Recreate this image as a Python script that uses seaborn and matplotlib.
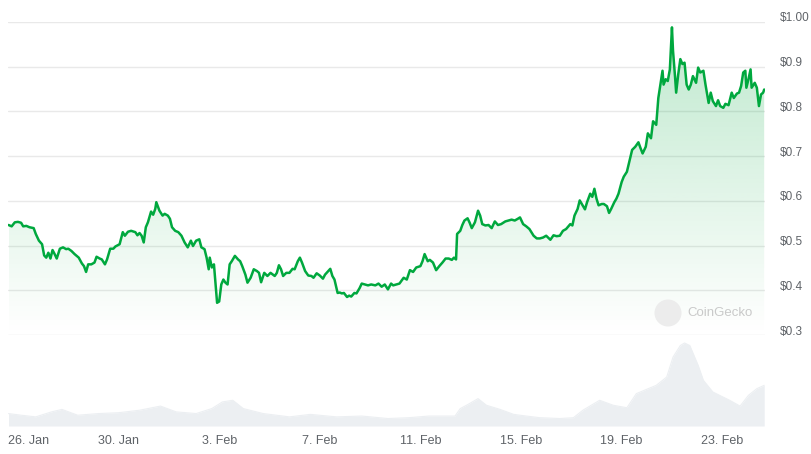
import numpy as np
import pandas as pd
import matplotlib
matplotlib.use("Agg")
import matplotlib.pyplot as plt
import matplotlib.dates as mdates
import matplotlib.transforms as mtransforms
from matplotlib.patches import Polygon, Ellipse
from matplotlib.colors import to_rgb
import seaborn as sns

sns.set_theme(style="white")
plt.rcParams['font.family'] = ['Liberation Sans', 'DejaVu Sans']

# ---------------- data ----------------
price_hours = [-9, -6, -3, 0, 3, 5, 8, 11, 15, 17, 20, 23, 25, 27, 29, 31, 33, 35, 37, 40,
               43, 46, 48, 51, 54, 58, 61, 63, 65, 67, 70, 73, 75, 78, 80, 83, 85, 88, 91, 93,
               97, 100, 102, 105, 108, 112, 114, 116, 118, 120, 122, 124, 127, 129, 131, 132, 135,
               138, 140, 143, 145, 147, 150, 153, 156, 159, 162, 165, 167, 170, 173, 175, 178, 180, 182, 183, 185,
               187, 189, 190, 192, 194, 196, 198, 200, 202, 204, 207, 210, 212, 214, 217, 219, 222, 225, 228, 230,
               232, 235, 238, 241, 245, 247, 249, 251, 253, 256, 259, 262, 264, 267, 269, 271, 274, 277,
               280, 282, 285, 288, 291, 293, 296, 298, 300, 302, 305, 307, 309, 311, 314, 316, 318, 321, 323, 326,
               328, 331, 334, 337, 341, 344, 347, 350, 353, 356, 358, 361, 364, 368, 371, 374, 377, 380, 384, 386,
               388, 391, 393, 396, 399, 402, 405, 408, 411, 414, 416, 418, 419, 422, 424, 426, 429,
               431, 433, 436, 439, 441, 443, 446, 449, 452, 455, 458, 461, 465, 468, 471, 474, 477, 479, 482, 485,
               488, 492, 495, 498, 501, 504, 508, 511, 514, 517, 520, 523, 527, 529, 531, 534, 536, 538, 541, 543,
               546, 548, 550, 552, 554, 557, 559, 562, 564, 566, 569, 571, 573, 576, 578,
               581, 584, 586, 589, 592, 594, 596, 599, 601, 604, 606, 609, 611, 613, 615, 616, 618, 620, 622, 624,
               625, 627, 628, 630, 632, 634, 636, 638, 640, 642, 644, 647, 649, 651, 654, 656, 659, 661, 663, 666,
               668, 670, 673, 675, 678, 681, 683, 686, 688, 690, 692, 694, 695, 697, 699, 700, 703, 705, 707, 709,
               711, 712]

price_usd = [0.546, 0.543, 0.552, 0.553, 0.551, 0.543, 0.544, 0.541, 0.539, 0.526,
             0.511, 0.503, 0.478, 0.473, 0.484, 0.471, 0.490, 0.481, 0.471, 0.493,
             0.496, 0.492, 0.493, 0.488, 0.481, 0.473, 0.460, 0.454, 0.441, 0.458,
             0.458, 0.462, 0.475, 0.471, 0.469, 0.458, 0.469, 0.493, 0.493, 0.498,
             0.503, 0.530, 0.522, 0.531, 0.533, 0.530, 0.523, 0.528, 0.522, 0.507,
             0.541, 0.552, 0.576, 0.569, 0.582, 0.597, 0.578,
             0.567, 0.571, 0.567, 0.560, 0.541, 0.533, 0.530, 0.522, 0.507, 0.496,
             0.511, 0.499, 0.511, 0.514, 0.496, 0.492, 0.473, 0.447, 0.473, 0.451,
             0.458, 0.402, 0.372, 0.375, 0.413, 0.424, 0.417, 0.413, 0.458, 0.465,
             0.477, 0.469, 0.465, 0.454, 0.435, 0.417, 0.428, 0.447, 0.443, 0.439,
             0.418, 0.439, 0.432, 0.439, 0.432, 0.439, 0.456, 0.447, 0.432, 0.439,
             0.439, 0.448, 0.447, 0.465, 0.473, 0.462, 0.443, 0.433,
             0.432, 0.428, 0.438, 0.433, 0.426, 0.435, 0.443, 0.448, 0.432, 0.424,
             0.394, 0.395, 0.393, 0.394, 0.385, 0.388, 0.386, 0.394, 0.393, 0.405,
             0.415, 0.413, 0.411, 0.413, 0.411, 0.415, 0.408, 0.413, 0.402, 0.415,
             0.411, 0.413, 0.415, 0.428, 0.424, 0.445, 0.441, 0.451, 0.454, 0.465,
             0.481, 0.465, 0.468, 0.462, 0.445, 0.454, 0.462, 0.471, 0.471, 0.468,
             0.473, 0.469, 0.526, 0.533, 0.546, 0.556, 0.561,
             0.551, 0.539, 0.552, 0.578, 0.567, 0.548, 0.545, 0.546, 0.539, 0.554,
             0.546, 0.548, 0.554, 0.556, 0.558, 0.556, 0.560, 0.563, 0.548, 0.543,
             0.537, 0.522, 0.516, 0.516, 0.518, 0.522, 0.513, 0.523, 0.521, 0.522,
             0.533, 0.537, 0.548, 0.545, 0.567, 0.582, 0.601, 0.593, 0.581, 0.597,
             0.616, 0.609, 0.627, 0.605, 0.590, 0.593, 0.593, 0.588, 0.573, 0.582,
             0.597, 0.605, 0.616, 0.642, 0.654,
             0.665, 0.695, 0.714, 0.721, 0.731, 0.718, 0.706, 0.721, 0.751, 0.740,
             0.778, 0.770, 0.830, 0.860, 0.891, 0.860, 0.872, 0.868, 0.894, 0.988,
             0.936, 0.876, 0.842, 0.883, 0.917, 0.906, 0.909, 0.860, 0.849, 0.860,
             0.879, 0.864, 0.898, 0.887, 0.891, 0.860, 0.819, 0.842, 0.823, 0.812,
             0.825, 0.812, 0.808, 0.817, 0.814, 0.842, 0.830, 0.840, 0.842, 0.857,
             0.887, 0.891, 0.853, 0.872, 0.894, 0.853, 0.864, 0.853, 0.812, 0.838,
             0.842, 0.849]

volume_hours = [-9, 3, 17, 32, 42, 57, 77, 96, 116, 136,
                151, 170, 185, 195, 205, 215, 234, 259, 279, 304,
                328, 353, 373, 392, 417, 422, 428, 439, 447, 460,
                473, 485, 498, 517, 530, 539, 555, 568, 581, 590,
                609, 619, 625, 632, 636, 641, 649, 654, 663, 679,
                689, 697, 705, 712]
volume_musd = [15, 13, 11, 17, 20, 13, 15, 16, 19, 24,
               17, 15, 21, 29, 31, 21, 15, 11, 14, 11,
               12, 9, 10, 12, 12, 21, 25, 33, 25, 20,
               14, 12, 10, 9, 10, 19, 31, 25, 22, 39,
               49, 59, 83, 97, 100, 97, 73, 55, 41, 31,
               24, 37, 45, 49]

start_date = "2024-01-26"
tick_dates = ["2024-01-26", "2024-01-30", "2024-02-03", "2024-02-07",
              "2024-02-11", "2024-02-15", "2024-02-19", "2024-02-23"]
tick_labels = ["26. Jan", "30. Jan", "3. Feb", "7. Feb", "11. Feb", "15. Feb", "19. Feb", "23. Feb"]
price_ticks = [0.3, 0.4, 0.5, 0.6, 0.7, 0.8, 0.9, 1.0]
price_tick_labels = ["$0.3", "$0.4", "$0.5", "$0.6", "$0.7", "$0.8", "$0.9", "$1.00"]

# ---------------- styling ----------------
GREEN = "#00a83e"
GRID = "#e9e9e9"
LABEL = "#5f6368"
VOLCOL = "#eceff2"

base = pd.Timestamp(start_date)
price_df = pd.DataFrame({"time": base + pd.to_timedelta(price_hours, unit="h"), "price": price_usd})
vol_df = pd.DataFrame({"time": base + pd.to_timedelta(volume_hours, unit="h"), "volume": volume_musd})

W, H = 811, 454
fig = plt.figure(figsize=(W / 100, H / 100), dpi=100)
fig.patch.set_facecolor("white")
L, R = 8, 764.5
TOP, MID, BOT = 22, 335, 426
ax = fig.add_axes([L / W, 1 - MID / H, (R - L) / W, (MID - TOP) / H])
axv = fig.add_axes([L / W, 1 - BOT / H, (R - L) / W, (BOT - MID) / H])

xmin = base + pd.Timedelta(hours=-9.5)
xmax = base + pd.Timedelta(hours=712.3)

# price line
sns.lineplot(data=price_df, x="time", y="price", ax=ax, color=GREEN, lw=1.8, zorder=4)

# gradient fill under the price
xn = mdates.date2num(price_df["time"])
pv = np.asarray(price_df["price"])
verts = np.column_stack([np.r_[xn[0], xn, xn[-1]], np.r_[0.3, pv, 0.3]])
poly = Polygon(verts, closed=True, facecolor="none", edgecolor="none", transform=ax.transData)
ax.add_patch(poly)
grad = np.zeros((256, 1, 4))
grad[..., :3] = to_rgb(GREEN)
grad[:, 0, 3] = np.linspace(0.26, 0.0, 256)
im = ax.imshow(grad, extent=[xn[0], xn[-1], 0.3, 1.0], aspect="auto", origin="upper",
               zorder=2, interpolation="bilinear")
im.set_clip_path(poly)

ax.set_xlim(xmin, xmax)
ax.set_ylim(0.3, 1.0)
ax.set_yticks(price_ticks)
ax.set_yticklabels(price_tick_labels)
ax.yaxis.tick_right()
ax.yaxis.grid(True, color=GRID, lw=1)
ax.xaxis.grid(False)
ax.set_axisbelow(True)
ax.tick_params(axis="y", length=0, pad=11, labelsize=8.5, labelcolor=LABEL)
ax.tick_params(axis="x", bottom=False, labelbottom=False)
ax.set_xlabel("")
ax.set_ylabel("")
for s in ax.spines.values():
    s.set_visible(False)
for lbl in ax.get_yticklabels():
    lbl.set_transform(lbl.get_transform() +
                      mtransforms.ScaledTranslation(0, 5 / 100, fig.dpi_scale_trans))

# volume
sns.lineplot(data=vol_df, x="time", y="volume", ax=axv, color=VOLCOL, lw=0.8)
axv.fill_between(vol_df["time"], vol_df["volume"], 0, color=VOLCOL, lw=0)
axv.set_xlim(xmin, xmax)
axv.set_ylim(0, 100 * 91 / 83)
axv.set_yticks([])
axv.set_xticks(pd.to_datetime(tick_dates))
axv.set_xticklabels(tick_labels)
axv.tick_params(axis="x", length=4.5, width=1, color="#e0e0e0", pad=2,
                labelsize=9, labelcolor=LABEL)
axv.set_xlabel("")
axv.set_ylabel("")
for s in axv.spines.values():
    s.set_visible(False)
first = axv.get_xticklabels()[0]
first.set_ha("left")
first.set_transform(first.get_transform() +
                    mtransforms.ScaledTranslation(-10 / 100, 0, fig.dpi_scale_trans))

# watermark
fig.patches.append(Ellipse((668 / W, 1 - 313 / H), 27 / W, 27 / H, transform=fig.transFigure,
                           facecolor="#ececec", edgecolor="none", zorder=5))
fig.text(687 / W, 1 - 313 / H, "CoinGecko", ha="left", va="center", fontsize=9.5,
         color="#c9c9c9", zorder=6)

fig.savefig("out.png", dpi=100, facecolor="white")
